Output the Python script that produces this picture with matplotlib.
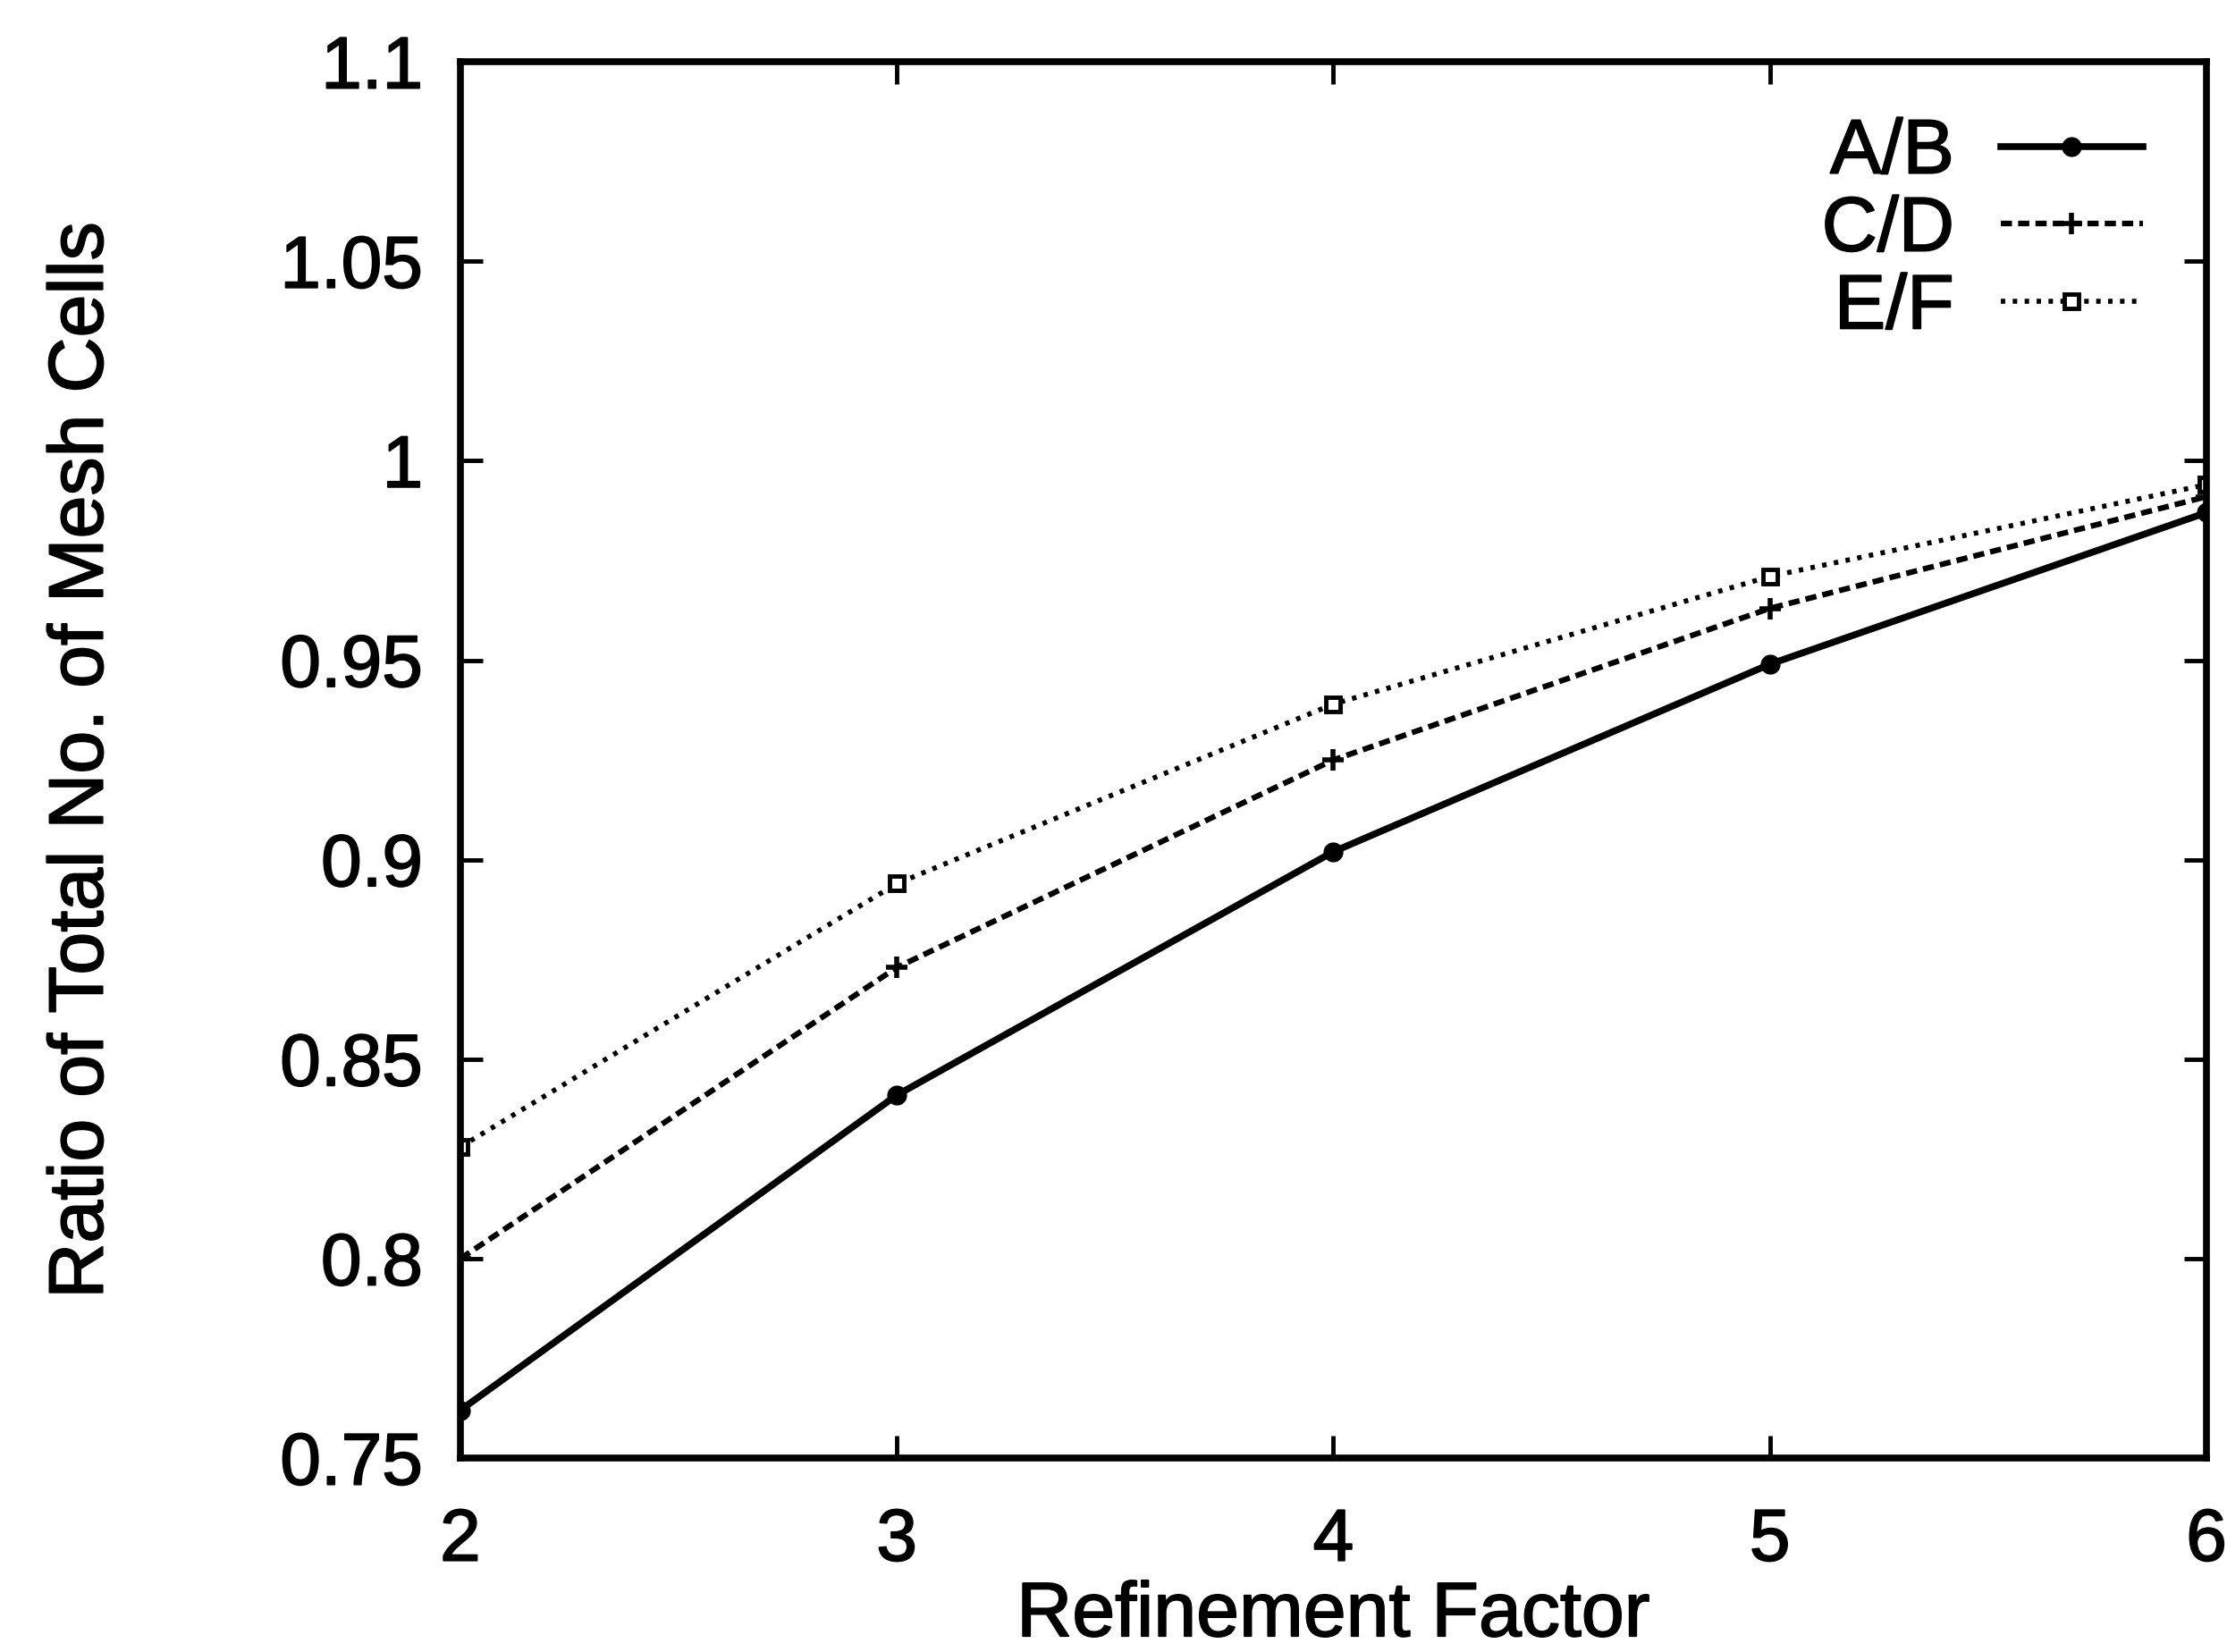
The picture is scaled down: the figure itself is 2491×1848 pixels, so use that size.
import matplotlib
matplotlib.use("Agg")
import matplotlib.pyplot as plt
import matplotlib.patheffects as pe

refinement = [2, 3, 4, 5, 6]
ab = [0.762, 0.841, 0.902, 0.949, 0.987]
cd = [0.800, 0.873, 0.925, 0.963, 0.991]
ef = [0.828, 0.894, 0.939, 0.971, 0.994]
yticks = [0.75, 0.8, 0.85, 0.9, 0.95, 1.0, 1.05, 1.1]
ytick_labels = ["0.75", "0.8", "0.85", "0.9", "0.95", "1", "1.05", "1.1"]
xticks = [2, 3, 4, 5, 6]

plt.rcParams['font.family'] = ['Liberation Sans', 'DejaVu Sans']
bold = [pe.withStroke(linewidth=1.3, foreground='black')]

fig = plt.figure(figsize=(24.91, 18.49), dpi=100)
ax = fig.add_axes([0.2067, 0.1173, 0.7841, 0.8448])

ax.plot(refinement, ab, color='black', lw=5.5, ls='-', marker='o', ms=15, label='A/B')
ax.plot(refinement, cd, color='black', lw=4.5, ls=(0, (2.0, 1.1)), marker='+', ms=17, mew=4, label='C/D')
ax.plot(refinement, ef, color='black', lw=4.0, ls=(0, (0.9, 1.5)), marker='s', ms=12, mfc='white', mew=3.5, label='E/F')

ax.set_xlim(2, 6)
ax.set_ylim(0.75, 1.1)
ax.set_xticks(xticks)
ax.set_xticklabels([str(x) for x in xticks])
ax.set_yticks(yticks)
ax.set_yticklabels(ytick_labels)

ax.tick_params(axis='both', direction='in', length=18, width=3.5, labelsize=59,
               top=True, right=True)
ax.tick_params(axis='y', pad=30)
ax.tick_params(axis='x', pad=40)
for s in ax.spines.values():
    s.set_linewidth(5.5)

for lab in ax.get_xticklabels() + ax.get_yticklabels():
    lab.set_path_effects(bold)

xl = ax.set_xlabel('Refinement Factor', fontsize=62, labelpad=4)
yl = ax.set_ylabel('Ratio of Total No. of Mesh Cells', fontsize=62, labelpad=130)
xl.set_path_effects(bold)
yl.set_path_effects(bold)

leg = ax.legend(loc='upper right', bbox_to_anchor=(0.99, 0.993), frameon=False,
                markerfirst=False, fontsize=62, handlelength=1.85, handletextpad=0.6,
                labelspacing=0.08, borderaxespad=0.2)
for t in leg.get_texts():
    t.set_ha('right')
    t.set_path_effects(bold)

fig.savefig('out.png', dpi=100)
